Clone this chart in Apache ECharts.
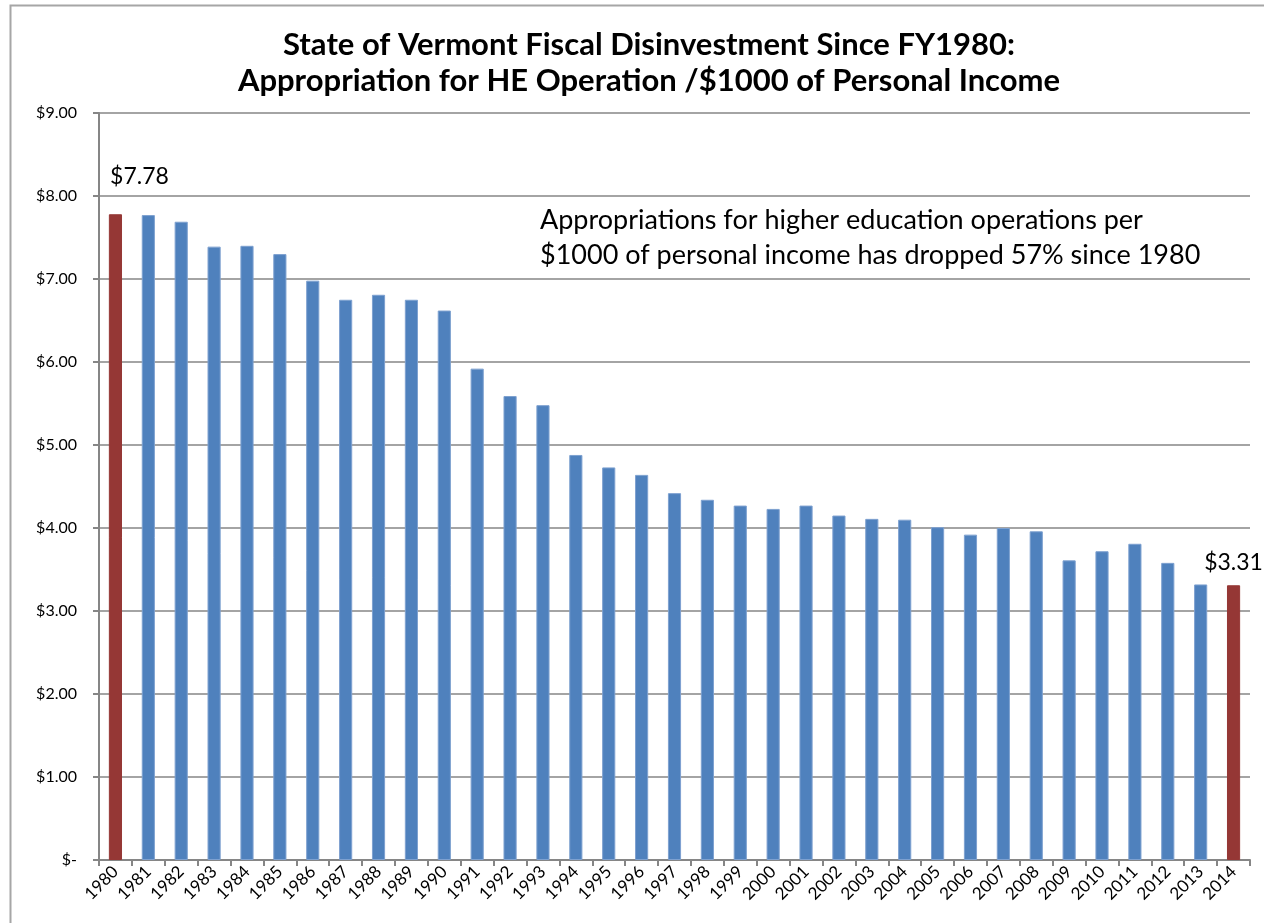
<!DOCTYPE html>
<html>
<head>
<meta charset="utf-8">
<script src="https://cdn.jsdelivr.net/npm/echarts@6/dist/echarts.min.js"></script>
<style>
  html, body { margin: 0; padding: 0; background: #fff; }
  #chart { width: 1264px; height: 923px; }
</style>
</head>
<body>
<div id="chart"></div>
<script>
(function () {
  // data ---------------------------------------------------------------
  var years = ['1980','1981','1982','1983','1984','1985','1986','1987','1988','1989',
    '1990','1991','1992','1993','1994','1995','1996','1997','1998','1999',
    '2000','2001','2002','2003','2004','2005','2006','2007','2008','2009',
    '2010','2011','2012','2013','2014'];
  var values = [7.78, 7.77, 7.69, 7.39, 7.40, 7.30, 6.98, 6.75, 6.81, 6.75,
    6.62, 5.92, 5.59, 5.48, 4.88, 4.73, 4.64, 4.42, 4.34, 4.27,
    4.23, 4.27, 4.15, 4.11, 4.10, 4.01, 3.92, 4.00, 3.96, 3.61,
    3.72, 3.81, 3.58, 3.32, 3.31];
  var highlightYears = ['1980', '2014'];
  var titleLines = ['State of Vermont Fiscal Disinvestment Since FY1980:',
    'Appropriation for HE Operation /$1000 of Personal Income'];
  var noteLines = ['Appropriations for higher education operations per',
    '$1000 of personal income has dropped 57% since 1980'];

  var font = 'Lato, "Open Sans", sans-serif';

  // bar items, first and last year in red with value label
  var barData = values.map(function (v, i) {
    var item = { value: v };
    if (highlightYears.indexOf(years[i]) >= 0) {
      item.itemStyle = { color: '#953735', borderColor: '#953735' };
      item.label = {
        show: true,
        position: 'top',
        distance: i === 0 ? 26 : 11,
        offset: i === 0 ? [24, 0] : [0, 0],
        fontSize: 23,
        fontFamily: font,
        color: '#000',
        formatter: function (p) { return '$' + p.value.toFixed(2); }
      };
    }
    return item;
  });

  var chart = echarts.init(document.getElementById('chart'));
  chart.setOption({
    animation: false,
    grid: { left: 99, right: 14, top: 113, bottom: 63, containLabel: false },
    graphic: [
      {
        type: 'rect',
        shape: { x: 10.5, y: 5.5, width: 1400, height: 1000 },
        style: { fill: 'none', stroke: '#a6a6a6', lineWidth: 2 },
        silent: true
      },
      {
        type: 'text',
        x: 649, y: 27,
        style: {
          text: titleLines.join('\n'),
          font: 'bold 31px ' + font,
          fill: '#000',
          textAlign: 'center',
          lineHeight: 36
        }
      },
      {
        type: 'text',
        x: 540, y: 203,
        style: {
          text: noteLines.join('\n'),
          font: '27px ' + font,
          fill: '#000',
          textAlign: 'left',
          lineHeight: 35
        }
      }
    ],
    xAxis: {
      type: 'category',
      data: years,
      axisLine: { lineStyle: { color: '#868686', width: 2 } },
      axisTick: { show: true, alignWithLabel: false, length: 6, lineStyle: { color: '#868686', width: 2 } },
      axisLabel: { rotate: 45, fontSize: 17, fontFamily: font, color: '#000', margin: 9, interval: 0 }
    },
    yAxis: {
      type: 'value',
      min: 0,
      max: 9,
      interval: 1,
      axisLine: { show: true, lineStyle: { color: '#868686', width: 2 } },
      axisTick: { show: true, inside: false, length: 6, lineStyle: { color: '#868686', width: 2 } },
      splitLine: { lineStyle: { color: '#868686', width: 1.5 } },
      axisLabel: {
        fontSize: 16, fontFamily: font, color: '#000', margin: 22,
        formatter: function (v) { return v === 0 ? '$-' : '$' + v.toFixed(2); }
      }
    },
    series: [
      {
        type: 'bar',
        data: barData,
        barWidth: '40%',
        itemStyle: { color: '#4f81bd', borderColor: '#7ea1d0', borderWidth: 1 }
      }
    ]
  });
})();
</script>
</body>
</html>
